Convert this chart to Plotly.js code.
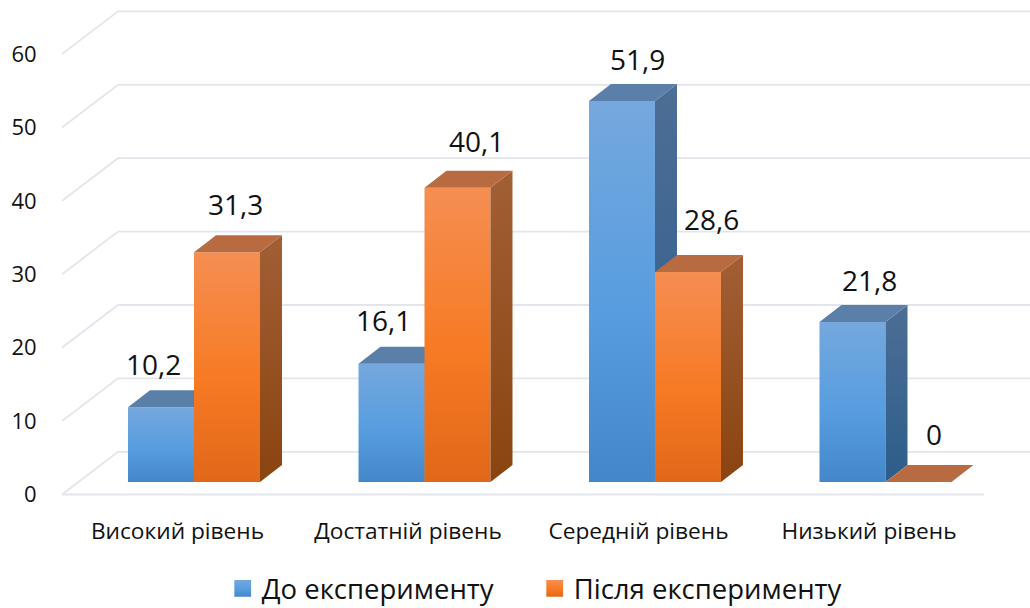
<!DOCTYPE html>
<html><head><meta charset="utf-8">
<script src="https://cdn.plot.ly/plotly-3.0.1.min.js"></script>
<style>html,body{margin:0;padding:0;background:#fff}#c{width:1030px;height:608px}</style>
</head><body><div id="c"></div>
<script>
const categories=["Високий рівень","Достатній рівень","Середній рівень","Низький рівень"];
const before=[10.2,16.1,51.9,21.8];
const after=[31.3,40.1,28.6,0];
const seriesNames=["До експерименту","Після експерименту"];
const yTicks=[0,10,20,30,40,50,60];
const labelShiftBefore=[[-8,43],[-8,44],[16,42],[17,42]];
const labelShiftAfter=[[8,48],[19,47],[24,53],[16,48]];

const idx=categories.map((_,i)=>i);
const W=0.2863, DX=0.09544, DY=2.316;     // bar width, depth
const FONT='"Open Sans",sans-serif', TXT='#111';
const traces=[];

// walls & floor on the reference axes
const WX=0.243, WY=5.82, X0=-0.5011, X1=3.6985, FLOOR_END=3.4989;
yTicks.forEach(v=>{
  traces.push({type:'scatter',mode:'lines',x:[X0,X0+WX,X1],y:[v,v+WY,v+WY],xaxis:'x',yaxis:'y',
    line:{color:'#e2e5eb',width:1.8},showlegend:false,hoverinfo:'skip',cliponaxis:false});
});
traces.push({type:'scatter',mode:'lines',x:[X0,FLOOR_END],y:[0,0],xaxis:'x',yaxis:'y',
  line:{color:'#e2e5eb',width:1.8},showlegend:false,hoverinfo:'skip'});

function series(vals,name,xa,ya,sign,barCol,topCol,sideScale){
  traces.push({type:'bar',name:name,x:idx,y:vals,xaxis:xa,yaxis:ya,width:W,offset:sign<0?-W:0,
    marker:{color:barCol,line:{width:0}}});
  vals.forEach((v,i)=>{
    const l=i+(sign<0?-W:0), r=l+W;
    traces.push({type:'scatter',mode:'none',fill:'toself',xaxis:xa,yaxis:ya,
      x:[r,r+DX,r+DX,r,r],y:[0,DY,v+DY,v,0],
      fillgradient:{type:'vertical',colorscale:sideScale},
      fillcolor:sideScale[0][1],showlegend:false,hoverinfo:'skip'});
    traces.push({type:'scatter',mode:'none',fill:'toself',xaxis:xa,yaxis:ya,
      x:[l,l+DX,r+DX,r,l],y:[v,v+DY,v+DY,v,v],
      fillcolor:topCol,showlegend:false,hoverinfo:'skip'});
  });
}
series(before,seriesNames[0],'x2','y2',-1,'#5b9fe0','#5a7fa8',[[0,'#2c5d8b'],[1,'#4d6e95']]);
series(after,seriesNames[1],'x3','y3',1,'#f77a24','#b86b40',[[0,'#8a4410'],[1,'#a25f35']]);

const fmt=v=>String(v).replace('.',',');
const ann=[];
before.forEach((v,i)=>ann.push({x:i-W/2,y:v,xref:'x2',yref:'y2',text:fmt(v),showarrow:false,
  xshift:labelShiftBefore[i][0],yshift:labelShiftBefore[i][1],font:{family:FONT,size:28,color:TXT}}));
after.forEach((v,i)=>ann.push({x:i+W/2,y:v,xref:'x3',yref:'y3',text:fmt(v),showarrow:false,
  xshift:labelShiftAfter[i][0],yshift:labelShiftAfter[i][1],font:{family:FONT,size:28,color:TXT}}));

const xBar=[-0.5727,3.627], yBar=[-33/7.34,482/7.34];
const hidden=r=>({range:r,visible:false,fixedrange:true});
const layout={
  width:1030,height:608,paper_bgcolor:'#fff',plot_bgcolor:'#fff',
  margin:{l:62,r:0,t:0,b:93,pad:0},
  barmode:'overlay',
  xaxis:{type:'linear',range:[X0,X1],tickvals:idx,ticktext:categories,showgrid:false,zeroline:false,showline:false,
    ticks:'',tickfont:{family:FONT,size:22.7,color:TXT},fixedrange:true},
  yaxis:{type:'linear',range:[-2.793,67.37],tickvals:yTicks,showgrid:false,zeroline:false,showline:false,
    ticks:'outside',ticklen:20,tickcolor:'rgba(0,0,0,0)',tickfont:{family:FONT,size:22,color:TXT},fixedrange:true},
  xaxis2:Object.assign(hidden(xBar),{overlaying:'x',anchor:'y2'}),
  yaxis2:Object.assign(hidden(yBar),{overlaying:'y',anchor:'x2'}),
  xaxis3:Object.assign(hidden(xBar),{overlaying:'x',anchor:'y3'}),
  yaxis3:Object.assign(hidden(yBar),{overlaying:'y',anchor:'x3'}),
  showlegend:true,
  legend:{orientation:'h',x:0.165,xanchor:'left',y:0,yanchor:'bottom',yref:'container',
    font:{family:FONT,size:27.5,color:TXT},itemwidth:30,itemclick:false,itemdoubleclick:false,
    entrywidth:267,entrywidthmode:'pixels',bgcolor:'rgba(0,0,0,0)',traceorder:'normal'},
  annotations:ann
};
Plotly.newPlot('c',traces,layout,{displayModeBar:false,staticPlot:true}).then(gd=>{
  const svg=gd.querySelector('svg.main-svg');
  const ns='http://www.w3.org/2000/svg';
  const defs=svg.querySelector('defs')||svg.insertBefore(document.createElementNS(ns,'defs'),svg.firstChild);
  const grad=(id,stops)=>{const g=document.createElementNS(ns,'linearGradient');
    g.setAttribute('id',id);g.setAttribute('x1','0');g.setAttribute('y1','0');g.setAttribute('x2','0');g.setAttribute('y2','1');
    stops.forEach(([o,c])=>{const s=document.createElementNS(ns,'stop');s.setAttribute('offset',o);s.setAttribute('stop-color',c);g.appendChild(s);});
    defs.appendChild(g);};
  grad('gBlue',[[0,'#75a8de'],[0.55,'#579ddf'],[1,'#4387ca']]);
  grad('gOrange',[[0,'#f58e52'],[0.55,'#f77a24'],[1,'#e1681a']]);
  const ids=['gBlue','gOrange'];
  gd.querySelectorAll('.barlayer .trace').forEach((t,i)=>{
    t.querySelectorAll('path').forEach(p=>p.style.fill='url(#'+ids[i]+')');
  });
  gd.querySelectorAll('.legend .traces').forEach((t,i)=>{
    t.querySelectorAll('.legendpoints path').forEach(p=>{p.style.fill='url(#'+ids[i]+')';p.setAttribute('transform','translate(21,0) scale(1.4,1.4)');});
  });
  const lg=gd.querySelector('.legend');
  const m=/translate\(\s*([-\d.]+)[ ,]+([-\d.]+)\s*\)/.exec(lg.getAttribute('transform'));
  if(m) lg.setAttribute('transform','translate('+m[1]+','+(parseFloat(m[2])+5)+')');
});
</script></body></html>
